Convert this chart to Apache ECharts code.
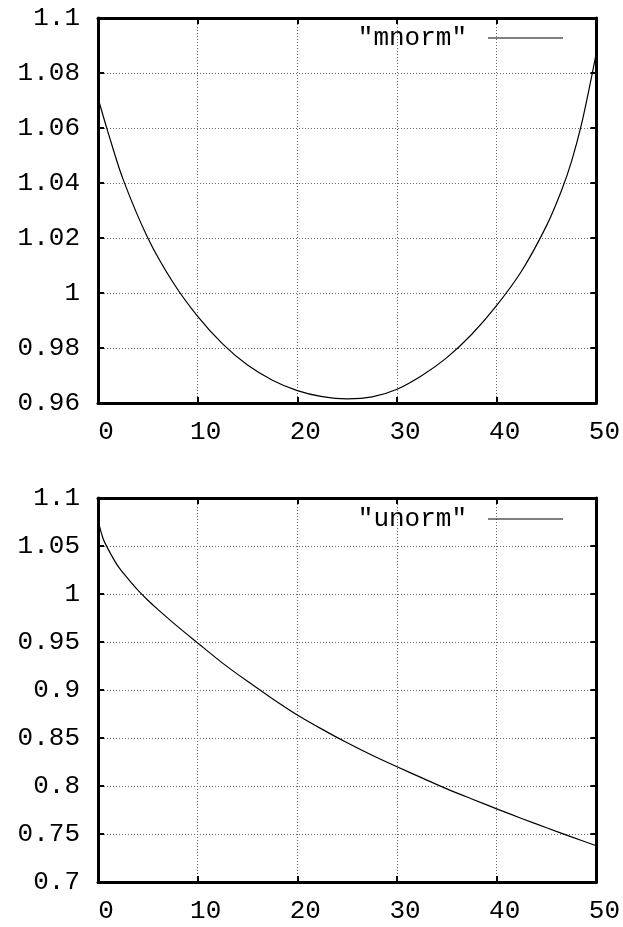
<!DOCTYPE html>
<html>
<head>
<meta charset="utf-8">
<script src="https://cdn.jsdelivr.net/npm/echarts@6/dist/echarts.min.js"></script>
<style>
  html, body { margin: 0; padding: 0; background: #fff; }
  #chart { width: 623px; height: 927px; }
</style>
</head>
<body>
<div id="chart"></div>
<script>
// top panel: "mnorm"
let mnorm_x = [0, 1, 2.5, 5, 7.5, 10, 12.5, 15, 17.5, 20, 22.5, 25, 27.5, 30, 32.5, 35, 37.5, 40, 42.5, 45, 46.5, 47.5, 48.5, 49.5, 50]
let mnorm_y = [1.0709, 1.0585, 1.0415, 1.0200, 1.0040, 0.9915, 0.9815, 0.9738, 0.9683, 0.9645, 0.9623, 0.9615, 0.9622, 0.9650, 0.9700, 0.9765, 0.9850, 0.9955, 1.0080, 1.0245, 1.0373, 1.0478, 1.0613, 1.0783, 1.0875]

// bottom panel: "unorm"
let unorm_x = [0, 0.5, 1, 2, 3, 4, 5, 6, 8, 10, 12.5, 15, 17.5, 20, 22.5, 25, 27.5, 30, 32.5, 35, 37.5, 40, 42.5, 45, 47.5, 50]
let unorm_y = [1.077, 1.058, 1.047, 1.029, 1.016, 1.004, 0.9935, 0.984, 0.966, 0.949, 0.928, 0.909, 0.891, 0.874, 0.859, 0.845, 0.832, 0.820, 0.8085, 0.797, 0.7865, 0.7762, 0.7662, 0.7565, 0.747, 0.7378]

// tick values
let x_ticks = [0, 10, 20, 30, 40, 50]
let top_y_ticks = [0.96, 0.98, 1.0, 1.02, 1.04, 1.06, 1.08, 1.1]
let bottom_y_ticks = [0.7, 0.75, 0.8, 0.85, 0.9, 0.95, 1.0, 1.05, 1.1]

let series_names = ['"mnorm"', '"unorm"']

const FONT = 'Liberation Mono'

function pairs(xs, ys) {
  let out = []
  for (let i = 0; i < xs.length; i++) {
    out.push([xs[i], ys[i]])
  }
  return out
}

function fmtTick(v) {
  return String(parseFloat(v.toFixed(4)))
}

function xAxisOf(gridIndex, position) {
  let main = position === 'bottom'
  return {
    type: 'value',
    gridIndex: gridIndex,
    position: position,
    min: x_ticks[0],
    max: x_ticks[x_ticks.length - 1],
    interval: x_ticks[1] - x_ticks[0],
    axisLine: { show: true, onZero: false, lineStyle: { color: '#000', width: 3 } },
    axisTick: { show: true, inside: true, length: 6, lineStyle: { color: '#000', width: 2 } },
    axisLabel: {
      show: main,
      margin: 16,
      padding: [0, 0, 0, 16],
      fontFamily: FONT,
      fontSize: 26,
      color: '#000',
      formatter: fmtTick
    },
    splitLine: {
      show: main,
      showMinLine: false,
      showMaxLine: false,
      lineStyle: { color: '#666', width: 1, type: [1, 2] }
    }
  }
}

function yAxisOf(gridIndex, position, ticks) {
  let main = position === 'left'
  return {
    type: 'value',
    gridIndex: gridIndex,
    position: position,
    min: ticks[0],
    max: ticks[ticks.length - 1],
    interval: ticks[1] - ticks[0],
    axisLine: { show: true, onZero: false, lineStyle: { color: '#000', width: 3 } },
    axisTick: { show: true, inside: true, length: 6, lineStyle: { color: '#000', width: 2 } },
    axisLabel: {
      show: main,
      margin: 18,
      fontFamily: FONT,
      fontSize: 26,
      color: '#000',
      formatter: fmtTick
    },
    splitLine: {
      show: main,
      showMinLine: false,
      showMaxLine: false,
      lineStyle: { color: '#666', width: 1, type: [1, 2] }
    }
  }
}

function legendOf(name, top) {
  return {
    data: [name],
    right: 60,
    top: top,
    padding: 0,
    align: 'right',
    icon: 'rect',
    itemWidth: 75,
    itemHeight: 1.2,
    selectedMode: false,
    textStyle: {
      fontFamily: FONT,
      fontSize: 26,
      color: '#000',
      padding: [0, 16, 0, 0]
    }
  }
}

let chart = echarts.init(document.getElementById('chart'), null, { renderer: 'canvas' })

let option = {
  backgroundColor: '#fff',
  animation: false,
  grid: [
    { left: 98, top: 18, width: 499, height: 385 },
    { left: 98, top: 498, width: 499, height: 384 }
  ],
  legend: [
    legendOf(series_names[0], 25),
    legendOf(series_names[1], 506)
  ],
  xAxis: [
    xAxisOf(0, 'bottom'),
    xAxisOf(0, 'top'),
    xAxisOf(1, 'bottom'),
    xAxisOf(1, 'top')
  ],
  yAxis: [
    yAxisOf(0, 'left', top_y_ticks),
    yAxisOf(0, 'right', top_y_ticks),
    yAxisOf(1, 'left', bottom_y_ticks),
    yAxisOf(1, 'right', bottom_y_ticks)
  ],
  series: [
    {
      name: series_names[0],
      type: 'line',
      xAxisIndex: 0,
      yAxisIndex: 0,
      showSymbol: false,
      smooth: 0.3,
      lineStyle: { color: '#000', width: 1.2 },
      itemStyle: { color: '#000' },
      data: pairs(mnorm_x, mnorm_y)
    },
    {
      name: series_names[1],
      type: 'line',
      xAxisIndex: 2,
      yAxisIndex: 2,
      showSymbol: false,
      smooth: 0.3,
      lineStyle: { color: '#000', width: 1.2 },
      itemStyle: { color: '#000' },
      data: pairs(unorm_x, unorm_y)
    }
  ]
}

chart.setOption(option)
</script>
</body>
</html>
